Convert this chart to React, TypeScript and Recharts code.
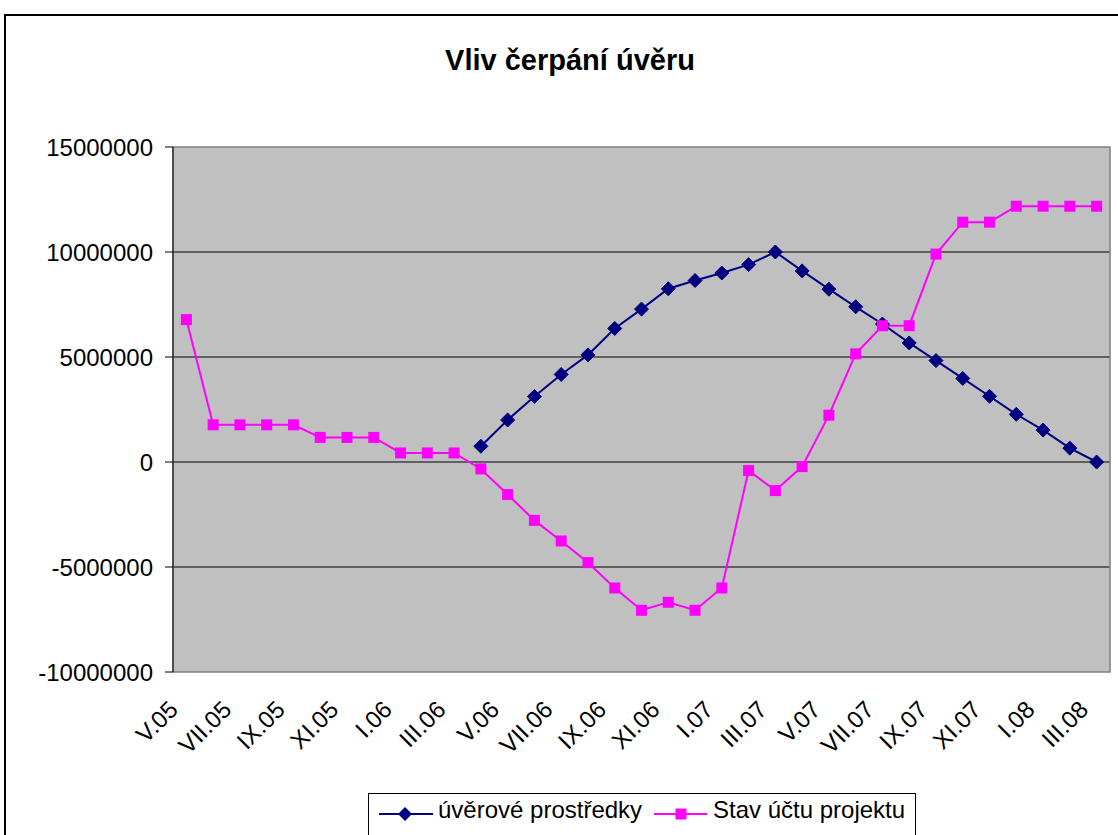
import React from 'react';
import { LineChart, Line, XAxis, YAxis, CartesianGrid, ReferenceArea } from 'recharts';

const months = [
  'V.05', 'VI.05', 'VII.05', 'VIII.05', 'IX.05', 'X.05', 'XI.05', 'XII.05',
  'I.06', 'II.06', 'III.06', 'IV.06', 'V.06', 'VI.06', 'VII.06', 'VIII.06', 'IX.06', 'X.06', 'XI.06', 'XII.06',
  'I.07', 'II.07', 'III.07', 'IV.07', 'V.07', 'VI.07', 'VII.07', 'VIII.07', 'IX.07', 'X.07', 'XI.07', 'XII.07',
  'I.08', 'II.08', 'III.08',
];

// úvěrové prostředky (no value before IV.06)
const uverove = [
  null, null, null, null, null, null, null, null, null, null, null,
  750000, 2000000, 3120000, 4170000, 5100000, 6360000, 7280000, 8250000, 8640000, 9000000,
  9400000, 10000000, 9100000, 8230000, 7390000, 6570000, 5670000, 4830000, 3980000, 3130000,
  2270000, 1520000, 660000, 0,
];

// Stav účtu projektu
const stavUctu = [
  6780000, 1770000, 1770000, 1770000, 1770000, 1170000, 1170000, 1170000, 430000, 430000,
  430000, -330000, -1550000, -2780000, -3760000, -4790000, -6000000, -7060000, -6680000, -7060000,
  -6000000, -410000, -1360000, -220000, 2230000, 5150000, 6490000, 6490000, 9900000, 11420000,
  11420000, 12180000, 12180000, 12180000, 12180000,
];

const yTicks = [-10000000, -5000000, 0, 5000000, 10000000, 15000000];
const gridValues = [-5000000, 0, 5000000, 10000000];

const data = months.map((m, i) => ({ i, month: m, uverove: uverove[i], stav: stavUctu[i] }));
const labelTicks = months.map((_, i) => i).filter((i) => i % 2 === 0);
const boundaryTicks = labelTicks.map((i) => i - 0.5);

const FONT = '"Liberation Sans", Arial, sans-serif';
const NAVY = '#000080';
const MAGENTA = '#FF00FF';

const Diamond = (props: any) => {
  const { cx, cy, value, index } = props;
  if (value == null || cy == null) return <g key={`d-${index}`} />;
  const r = 7;
  return (
    <polygon
      key={`d-${index}`}
      points={`${cx},${cy - r} ${cx + r},${cy} ${cx},${cy + r} ${cx - r},${cy}`}
      fill={NAVY}
      stroke={NAVY}
    />
  );
};

const Square = (props: any) => {
  const { cx, cy, value, index } = props;
  if (value == null || cy == null) return <g key={`s-${index}`} />;
  const h = 5.5;
  return <rect key={`s-${index}`} x={cx - h} y={cy - h} width={h * 2} height={h * 2} fill={MAGENTA} />;
};

const MonthTick = (props: any) => {
  const { x, y, payload } = props;
  const ax = x - 7;
  const ay = y + 39;
  return (
    <text
      x={ax}
      y={ay}
      transform={`rotate(-45 ${ax} ${ay})`}
      textAnchor="end"
      fontSize={24}
      fontFamily={FONT}
      fill="#000"
    >
      {months[payload.value]}
    </text>
  );
};

const EmptyTick = () => <g />;

export default function App() {
  return (
    <div
      style={{
        position: 'absolute',
        left: 0,
        top: 0,
        width: 1118,
        height: 835,
        overflow: 'hidden',
        background: '#fff',
        fontFamily: FONT,
      }}
    >
      <div
        style={{
          position: 'absolute',
          left: 4,
          top: 14,
          width: 1300,
          height: 1000,
          border: '2px solid #000',
        }}
      />
      <div
        style={{
          position: 'absolute',
          left: 0,
          top: 46,
          width: 1140,
          textAlign: 'center',
          fontSize: 29,
          lineHeight: '29px',
          fontWeight: 'bold',
          color: '#000',
        }}
      >
        Vliv čerpání úvěru
      </div>

      <div style={{ position: 'absolute', left: 0, top: 0 }}>
        <LineChart width={1118} height={835} data={data} margin={{ top: 147, right: 8, bottom: 0, left: 0 }}>
          <CartesianGrid
            horizontalValues={gridValues}
            vertical={false}
            stroke="#000"
            strokeWidth={1}
            fill="#C0C0C0"
            fillOpacity={1}
          />
          <XAxis
            xAxisId="tk"
            type="number"
            dataKey="i"
            domain={[-0.5, months.length - 0.5]}
            allowDataOverflow
            ticks={boundaryTicks}
            interval={0}
            height={0}
            tick={EmptyTick}
            tickSize={7}
            tickLine={{ stroke: '#000' }}
            axisLine={{ stroke: '#000' }}
          />
          <XAxis
            xAxisId="lab"
            type="number"
            dataKey="i"
            domain={[-0.5, months.length - 0.5]}
            allowDataOverflow
            ticks={labelTicks}
            interval={0}
            height={163}
            tick={<MonthTick />}
            tickSize={0}
            tickMargin={0}
            tickLine={false}
            axisLine={false}
          />
          <YAxis
            type="number"
            domain={[-10000000, 15000000]}
            ticks={yTicks}
            interval={0}
            width={173}
            tickSize={8}
            tickMargin={12}
            tick={{ fontSize: 24, fill: '#000', fontFamily: FONT }}
            tickLine={{ stroke: '#000' }}
            axisLine={{ stroke: '#000' }}
          />
          <ReferenceArea
            xAxisId="lab"
            x1={-0.5}
            x2={months.length - 0.5}
            y1={-10000000}
            y2={15000000}
            fill="none"
            stroke="#808080"
            strokeWidth={1.5}
          />
          <Line
            xAxisId="lab"
            type="linear"
            dataKey="uverove"
            stroke={NAVY}
            strokeWidth={2}
            dot={Diamond}
            activeDot={false}
            connectNulls={false}
            isAnimationActive={false}
          />
          <Line
            xAxisId="lab"
            type="linear"
            dataKey="stav"
            stroke={MAGENTA}
            strokeWidth={2}
            dot={Square}
            activeDot={false}
            isAnimationActive={false}
          />
        </LineChart>
      </div>

      {/* legend */}
      <div
        style={{
          position: 'absolute',
          left: 368,
          top: 793,
          width: 546,
          height: 80,
          border: '1px solid #000',
          background: '#fff',
        }}
      >
        <svg width={546} height={40} style={{ position: 'absolute', left: 0, top: 0 }}>
          <line x1={10} y1={20} x2={64} y2={20} stroke={NAVY} strokeWidth={2} />
          <polygon points="36,13 43,20 36,27 29,20" fill={NAVY} />
          <line x1={285} y1={20} x2={338} y2={20} stroke={MAGENTA} strokeWidth={2} />
          <rect x={306.5} y={14.5} width={11} height={11} fill={MAGENTA} />
        </svg>
        <div style={{ position: 'absolute', left: 69, top: 4, fontSize: 24, lineHeight: '24px', whiteSpace: 'nowrap' }}>
          úvěrové prostředky
        </div>
        <div style={{ position: 'absolute', left: 344, top: 4, fontSize: 24, lineHeight: '24px', whiteSpace: 'nowrap' }}>
          Stav účtu projektu
        </div>
      </div>
    </div>
  );
}
